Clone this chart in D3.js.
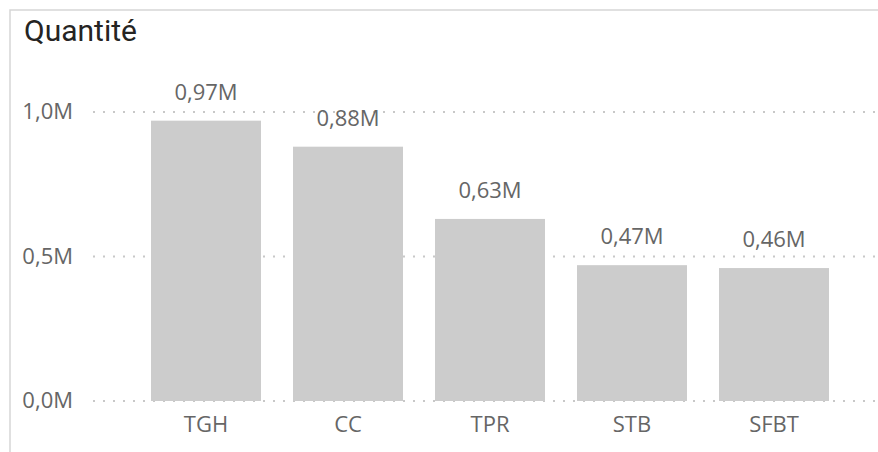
<!DOCTYPE html>
<html>
<head>
<meta charset="utf-8">
<script src="https://cdn.jsdelivr.net/npm/d3@7"></script>
<style>
    body { margin: 0; background: #fff; }
    .chart-title { font-family: Roboto, sans-serif; font-size: 30px; fill: #252423; }
    .label { font-family: "Open Sans", sans-serif; font-size: 22px; fill: #666666; }
    .grid line { stroke: #c8c8c8; stroke-width: 2; stroke-dasharray: 2 8; }
    .bar { fill: #cccccc; }
</style>
</head>
<body>
<div id="chart"></div>
<script>
    // data (millions)
    const categories = ["TGH", "CC", "TPR", "STB", "SFBT"],
        values = [970000, 880000, 630000, 470000, 460000],
        valueLabels = ["0,97M", "0,88M", "0,63M", "0,47M", "0,46M"],
        yTicks = [0, 500000, 1000000],
        yTickLabels = ["0,0M", "0,5M", "1,0M"],
        title = "Quantité";

    let width = 878, height = 452,
        margin = {top: 112, left: 93, right: 2, bottom: 51};

    let svg = d3.select("#chart")
        .append("svg")
        .attr("width", width)
        .attr("height", height);

    // outline of the visual
    svg.append("rect")
        .attr("x", 10)
        .attr("y", 10)
        .attr("width", width + 20)
        .attr("height", height + 20)
        .attr("fill", "none")
        .attr("stroke", "#d6d6d6")
        .attr("stroke-width", 1.5);

    svg.append("text")
        .classed("chart-title", true)
        .attr("x", 24)
        .attr("y", 41)
        .text(title);

    let xScale = d3.scaleBand()
        .domain(categories)
        .range([135, 845])
        .paddingInner(32 / 142)
        .paddingOuter(16 / 142);

    let yScale = d3.scaleLinear()
        .domain([0, 1000000])
        .range([height - margin.bottom, margin.top]);

    // dotted grid lines
    svg.append("g")
        .classed("grid", true)
        .selectAll("line")
        .data(yTicks)
        .join("line")
        .attr("x1", margin.left)
        .attr("x2", width - margin.right)
        .attr("y1", d => yScale(d))
        .attr("y2", d => yScale(d));

    // y tick labels
    svg.append("g")
        .selectAll("text")
        .data(yTicks)
        .join("text")
        .classed("label", true)
        .attr("text-anchor", "end")
        .attr("x", 73)
        .attr("y", d => yScale(d))
        .attr("dy", "0.33em")
        .text((d, i) => yTickLabels[i]);

    // bars
    svg.append("g")
        .selectAll("rect")
        .data(values)
        .join("rect")
        .classed("bar", true)
        .attr("x", (d, i) => xScale(categories[i]))
        .attr("y", d => yScale(d))
        .attr("width", xScale.bandwidth())
        .attr("height", d => yScale(0) - yScale(d));

    // value labels
    svg.append("g")
        .selectAll("text")
        .data(values)
        .join("text")
        .classed("label", true)
        .attr("text-anchor", "middle")
        .attr("x", (d, i) => xScale(categories[i]) + xScale.bandwidth() / 2)
        .attr("y", d => yScale(d) - 21)
        .text((d, i) => valueLabels[i]);

    // category labels
    svg.append("g")
        .selectAll("text")
        .data(categories)
        .join("text")
        .classed("label", true)
        .attr("text-anchor", "middle")
        .attr("x", d => xScale(d) + xScale.bandwidth() / 2)
        .attr("y", yScale(0) + 31)
        .text(d => d);
</script>
</body>
</html>
